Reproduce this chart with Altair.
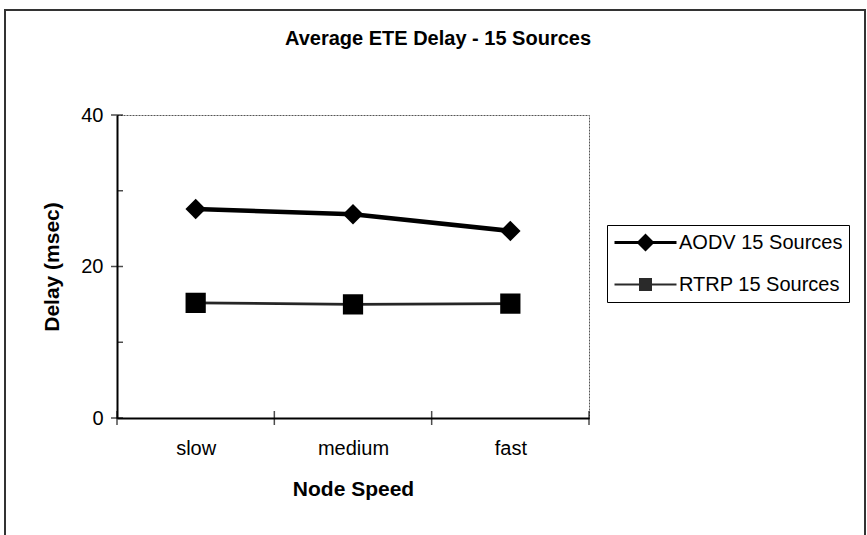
import altair as alt
import pandas as pd

# ---- data ----
speeds = ["slow", "medium", "fast"]
speed_pos = [0.5, 1.5, 2.5]
series_names = ["AODV 15 Sources", "RTRP 15 Sources"]
aodv_delay = [27.6, 26.9, 24.7]
rtrp_delay = [15.2, 15.0, 15.1]
x_boundaries = [0, 1, 2, 3]
y_labels = [0, 20, 40]
y_major_ticks = [0, 20, 40]
y_minor_ticks = [10, 30]

FONT = "Liberation Sans"

df = pd.DataFrame({
    "pos": speed_pos * 2,
    "speed": speeds * 2,
    "delay": aodv_delay + rtrp_delay,
    "series": [series_names[0]] * 3 + [series_names[1]] * 3,
})

label_expr = " : ".join(
    f"datum.value == {p} ? '{s}'" for p, s in zip(speed_pos, speeds)
) + " : ''"

x_scale = alt.Scale(domain=[0, 3], nice=False, zero=False)
y_scale = alt.Scale(domain=[0, 40], nice=False, zero=True)

x_axis = alt.Axis(
    values=speed_pos, labelExpr=label_expr, title="Node Speed",
    ticks=False, tickSize=0, grid=False, domainColor="black", domainWidth=2,
    labelFont=FONT, labelFontSize=20, labelColor="black", labelPadding=20,
    labelFlush=False, labelOverlap=False,
    titleFont=FONT, titleFontSize=21, titleFontWeight="bold", titleColor="black",
    titlePadding=20,
)
y_axis = alt.Axis(
    values=y_labels, title="Delay (msec)",
    ticks=False, tickSize=0, grid=False, domainColor="black", domainWidth=2,
    labelFont=FONT, labelFontSize=20, labelColor="black", labelPadding=14,
    labelFlush=False, labelOverlap=False,
    titleFont=FONT, titleFontSize=21, titleFontWeight="bold", titleColor="black",
    titlePadding=18,
)

X = alt.X("pos:Q", scale=x_scale, axis=x_axis)
Y = alt.Y("delay:Q", scale=y_scale, axis=y_axis)

base = alt.Chart(df).encode(x=X, y=Y)

# outer chart frame (decorative)
frame = alt.Chart(pd.DataFrame({"pos": [0]})).mark_rect(
    fillOpacity=0, stroke="#333333", strokeWidth=2
).encode(
    x=alt.value(-112), x2=alt.value(748), y=alt.value(-105), y2=alt.value(445)
)

is_a = alt.datum.series == series_names[0]
is_r = alt.datum.series == series_names[1]

line_a = base.transform_filter(is_a).mark_line(color="black", strokeWidth=4.5)
line_r = base.transform_filter(is_r).mark_line(color="#262626", strokeWidth=2.7)
pts_a = base.transform_filter(is_a).mark_point(
    shape="diamond", filled=True, size=420, color="black", opacity=1
)
pts_r = base.transform_filter(is_r).mark_point(
    shape="square", filled=True, size=410, color="black", opacity=1
)

# crossing tick marks on the axes
xt = alt.Chart(pd.DataFrame({"pos": x_boundaries, "delay": [0] * len(x_boundaries)})).mark_tick(
    orient="vertical", size=14, thickness=1.5, color="black"
).encode(x=X, y=Y)
yt = alt.Chart(pd.DataFrame({"pos": [0] * len(y_major_ticks), "delay": y_major_ticks})).mark_tick(
    orient="horizontal", size=12, thickness=1.5, color="black"
).encode(x=X, y=Y)
ym = alt.Chart(pd.DataFrame({"pos": [0] * len(y_minor_ticks), "delay": y_minor_ticks})).mark_tick(
    orient="horizontal", size=6, thickness=1.5, color="black"
).encode(x=X, y=Y, xOffset=alt.value(3))

# legend symbols: filled line segment + marker (paths in symbol units)
path_a = ("M-3.1,-0.15L3.1,-0.15L3.1,0.15L-3.1,0.15Z"
          "M0,-0.9L0.9,0L0,0.9L-0.9,0Z")
path_r = ("M-3.1,-0.1L3.1,-0.1L3.1,0.1L-3.1,0.1Z"
          "M-0.65,-0.65L0.65,-0.65L0.65,0.65L-0.65,0.65Z")

legend_def = alt.Legend(
    title=None, orient="none", legendX=490, legendY=110,
    padding=6, strokeColor="black", fillColor="white",
    labelFont=FONT, labelFontSize=20, labelColor="black", labelLimit=400,
    labelExpr="datum.label + '\u00a0\u00a0\u00a0'",
    symbolSize=400, symbolOffset=21, labelOffset=22, rowPadding=16,
    symbolOpacity=1, symbolStrokeWidth=2.5,
)

legend_layer = base.mark_point(filled=True).encode(
    shape=alt.Shape(
        "series:N",
        scale=alt.Scale(domain=series_names, range=[path_a, path_r]),
        legend=legend_def,
    ),
    color=alt.Color(
        "series:N",
        scale=alt.Scale(domain=series_names, range=["black", "#2a2a2a"]),
        legend=legend_def,
    ),
    opacity=alt.value(0),
)

chart = alt.layer(
    frame, line_r, line_a, pts_r, pts_a, xt, yt, ym, legend_layer
).properties(
    width=472, height=303,
    title=alt.TitleParams(
        text="Average ETE Delay - 15 Sources", font=FONT, fontSize=20,
        fontWeight="bold", color="black", anchor="middle", frame="group",
        baseline="alphabetic", offset=-56, dx=85,
    ),
    autosize=alt.AutoSizeParams(type="none"),
    padding={"left": 117, "top": 115, "right": 278, "bottom": 117},
).configure_view(stroke="#555555", strokeWidth=1, strokeDash=[2, 1])

chart.save("out.html", embed_options={"renderer": "svg", "actions": False})
